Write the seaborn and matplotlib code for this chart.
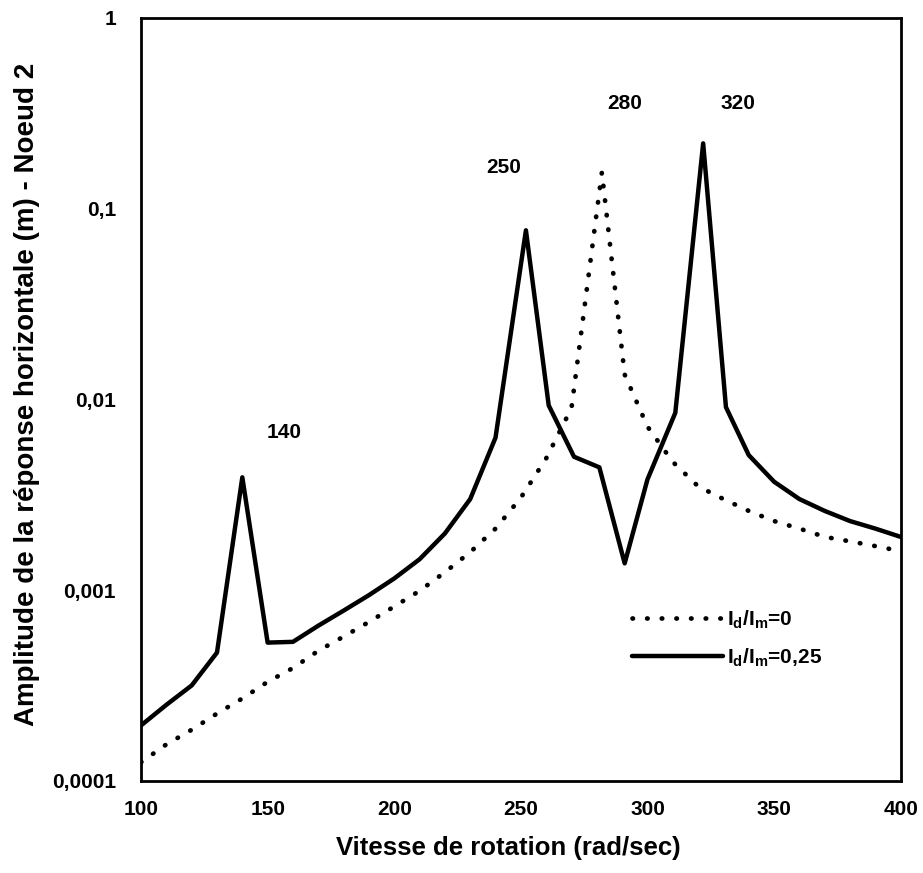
import numpy as np
import pandas as pd
import matplotlib
matplotlib.use("Agg")
import matplotlib.pyplot as plt
from matplotlib.ticker import FixedLocator, FixedFormatter, NullLocator
import seaborn as sns

# Rotation speed (rad/s) and horizontal response amplitude (m) at node 2
speed_ratio0 = [100, 110, 120, 130, 140, 150, 160, 170, 180, 190, 200, 210, 220,
                230, 240, 250, 260, 270, 282, 291, 300, 310, 320, 330, 340, 350,
                360, 370, 380, 390, 400]
amp_ratio0 = [1.25e-4, 1.55e-4, 1.85e-4, 2.25e-4, 2.7e-4, 3.3e-4, 3.9e-4, 4.8e-4,
              5.7e-4, 6.8e-4, 8.2e-4, 9.9e-4, 1.24e-3, 1.58e-3, 2.1e-3, 3.05e-3,
              4.9e-3, 9.0e-3, 0.155, 0.0135, 0.0072, 0.0047, 0.0035, 0.0030,
              0.0026, 0.0023, 0.0021, 0.0019, 0.0018, 0.0017, 0.0016]

speed_ratio025 = [100, 110, 120, 130, 140, 150, 160, 170, 180, 190, 200, 210, 220,
                  230, 240, 252, 261, 271, 281, 291, 300, 311, 322, 331, 340, 350,
                  360, 370, 380, 390, 400]
amp_ratio025 = [1.95e-4, 2.5e-4, 3.16e-4, 4.7e-4, 3.9e-3, 5.3e-4, 5.35e-4, 6.5e-4,
                7.8e-4, 9.4e-4, 1.15e-3, 1.45e-3, 1.98e-3, 3.0e-3, 6.3e-3, 0.077,
                0.0093, 0.0050, 0.0044, 0.00138, 0.0038, 0.0085, 0.22, 0.0091,
                0.0051, 0.0037, 0.0030, 0.0026, 0.0023, 0.0021, 0.0019]

# Critical speed annotations
peak_labels = ["140", "250", "280", "320"]
peak_label_x = [156.5, 243.4, 291.2, 335.8]
peak_label_y = [0.0067, 0.165, 0.358, 0.358]

y_ticks = [1e-4, 1e-3, 1e-2, 1e-1, 1]
y_ticklabels = ["0,0001", "0,001", "0,01", "0,1", "1"]
x_ticks = [100, 150, 200, 250, 300, 350, 400]

label_ratio0 = r"I$_{\mathbf{d}}$/I$_{\mathbf{m}}$=0"
label_ratio025 = r"I$_{\mathbf{d}}$/I$_{\mathbf{m}}$=0,25"

sns.set_style("white")
plt.rcParams["font.family"] = ["Liberation Sans", "DejaVu Sans"]
plt.rcParams["font.weight"] = "bold"
plt.rcParams["text.color"] = "black"
plt.rcParams["axes.labelcolor"] = "black"
plt.rcParams["xtick.color"] = "black"
plt.rcParams["ytick.color"] = "black"
plt.rcParams["mathtext.fontset"] = "custom"
plt.rcParams["mathtext.rm"] = "Liberation Sans:bold"
plt.rcParams["mathtext.bf"] = "Liberation Sans:bold"
plt.rcParams["mathtext.it"] = "Liberation Sans:bold"
plt.rcParams["mathtext.default"] = "bf"

fig = plt.figure(figsize=(9.23, 8.73), dpi=100)
ax = fig.add_axes([0.1528, 0.1057, 0.8230, 0.8737])

df0 = pd.DataFrame({"speed": speed_ratio0, "amp": amp_ratio0})
df1 = pd.DataFrame({"speed": speed_ratio025, "amp": amp_ratio025})

sns.lineplot(data=df0, x="speed", y="amp", ax=ax, color="black", linewidth=3.4,
             linestyle=(0, (0.1, 3.0)), dash_capstyle="round",
             estimator=None, sort=False, label=label_ratio0)
sns.lineplot(data=df1, x="speed", y="amp", ax=ax, color="black", linewidth=3.2,
             estimator=None, sort=False, label=label_ratio025)

ax.set_yscale("log")
ax.set_xlim(100, 400)
ax.set_ylim(1e-4, 1)
ax.yaxis.set_major_locator(FixedLocator(y_ticks))
ax.yaxis.set_major_formatter(FixedFormatter(y_ticklabels))
ax.yaxis.set_minor_locator(NullLocator())
ax.set_xticks(x_ticks)
ax.set_xticklabels([str(v) for v in x_ticks])

for sp in ax.spines.values():
    sp.set_visible(True)
    sp.set_color("black")
    sp.set_linewidth(2.0)

ax.tick_params(axis="both", which="major", direction="inout", length=8, width=1.5,
               color="black", labelsize=15, labelcolor="black")
ax.tick_params(axis="y", pad=14)
ax.tick_params(axis="x", pad=10)

ax.set_xlabel("Vitesse de rotation (rad/sec)", fontsize=18.5, fontweight="bold")
ax.set_ylabel("Amplitude de la réponse horizontale (m) - Noeud 2", fontsize=20,
              fontweight="bold")
ax.xaxis.set_label_coords(0.483, -0.072)
ax.yaxis.set_label_coords(-0.133, 0.507)

for txt, lx, ly in zip(peak_labels, peak_label_x, peak_label_y):
    ax.text(lx, ly, txt, fontsize=15, fontweight="bold", ha="center", va="center")

leg = ax.legend(loc="center left", bbox_to_anchor=(0.632, 0.186), frameon=False,
                fontsize=15, handlelength=4.4, handletextpad=0.2, borderpad=0,
                labelspacing=0.75)
for t in leg.get_texts():
    t.set_fontweight("bold")

fig.savefig("out.png", dpi=100)
